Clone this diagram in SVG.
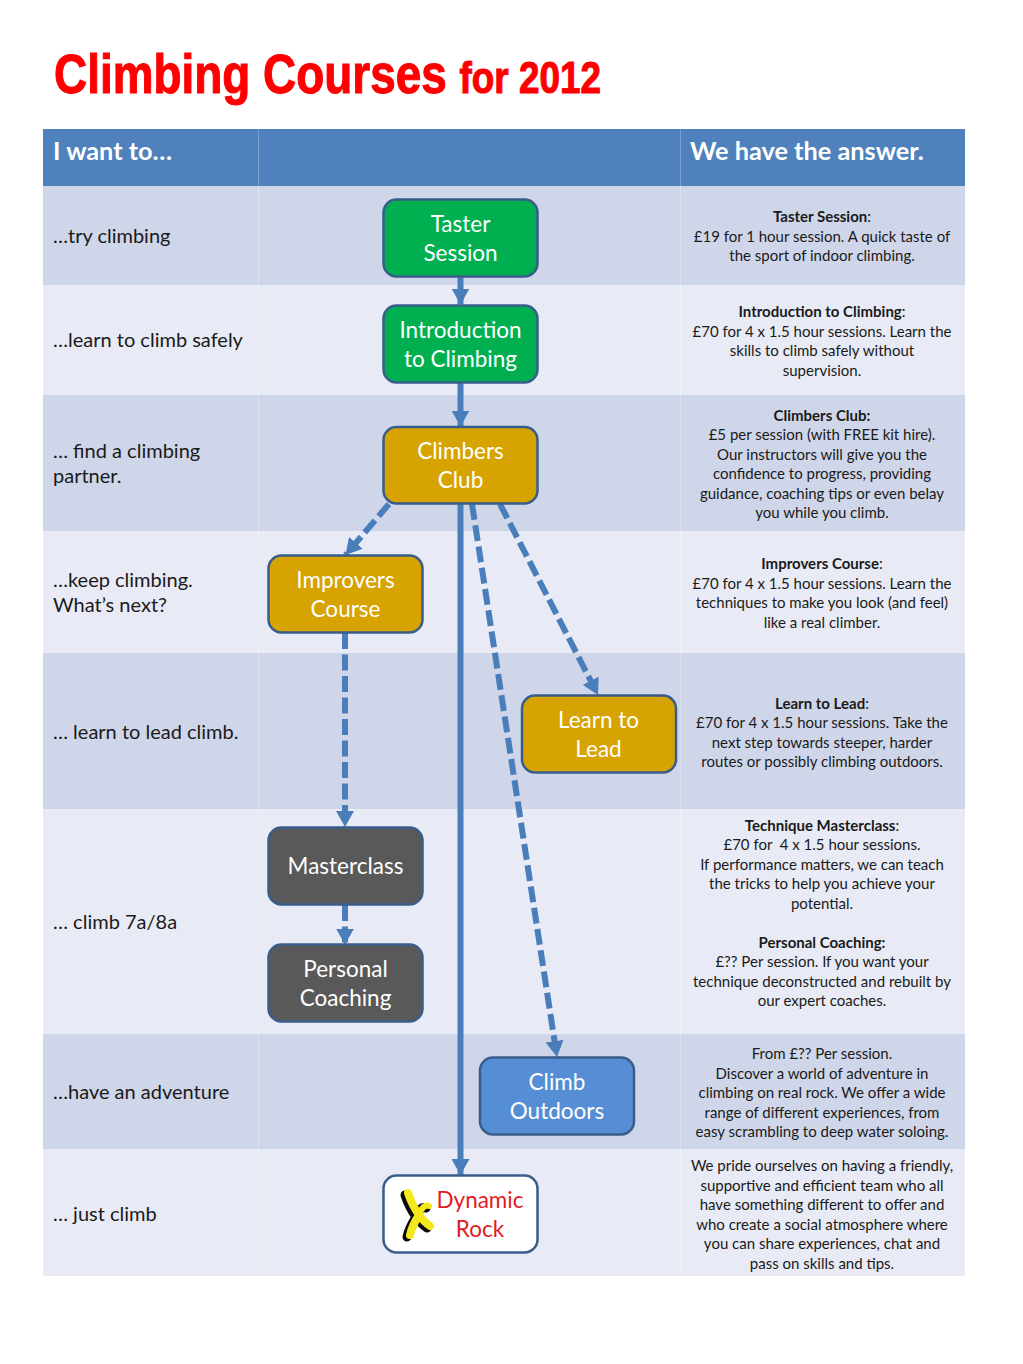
<svg xmlns="http://www.w3.org/2000/svg" width="1023" height="1364" viewBox="0 0 1023 1364">
<style>
text{font-family:Lato,"Open Sans",sans-serif}
.title{font-family:"Liberation Sans",Arial,sans-serif;font-weight:700;fill:#f00;stroke:#f00;stroke-width:1.100}
.hd{font-size:25.300px;font-weight:700;fill:#fff}
.lb{font-size:20px;fill:#1a1a1a}
.in{font-size:15px;fill:#1a1a1a;text-anchor:middle}
.b{font-weight:700}
.n{font-size:22.500px;fill:#fff;text-anchor:middle}
.nb{stroke:#385d8a;stroke-width:2.500}
.c{fill:none;stroke:#4a7ebb;stroke-width:6}
.d{stroke-dasharray:16 5.500}
.ly{fill:none;stroke:#f4e81d;stroke-width:8;stroke-linecap:round}
.lk{fill:none;stroke:#0a0a0a;stroke-width:9;stroke-linecap:round}
</style>
<defs>
<marker id="ah" markerUnits="userSpaceOnUse" markerWidth="17" markerHeight="18" refX="16" refY="9" orient="auto"><path d="M0 0L16 9L0 18Z" fill="#4a7ebb"/></marker>
</defs>
<rect width="1023" height="1364" fill="#fff"/>
<g id="title">
<text class="title" transform="translate(54 92.500) scale(.82 1)"><tspan font-size="56">Climbing Courses </tspan><tspan font-size="45">for 2012</tspan></text>
</g>
<g id="table">
<rect x="43" y="129" width="922" height="57" fill="#4f81bd"/>
<rect x="43" y="186" width="922" height="99" fill="#cfd6e9"/>
<rect x="43" y="285" width="922" height="110" fill="#e8ebf5"/>
<rect x="43" y="395" width="922" height="136" fill="#cfd6e9"/>
<rect x="43" y="531" width="922" height="122" fill="#e8ebf5"/>
<rect x="43" y="653" width="922" height="156" fill="#cfd6e9"/>
<rect x="43" y="809" width="922" height="225" fill="#e8ebf5"/>
<rect x="43" y="1034" width="922" height="115" fill="#cfd6e9"/>
<rect x="43" y="1149" width="922" height="127" fill="#e8ebf5"/>
<path d="M258.500 129V1276M680.500 129V1276" stroke="#fff" stroke-opacity=".25" fill="none"/>
<text class="hd" x="53" y="160">I want to…</text>
<text class="hd" x="690" y="160">We have the answer.</text>
<text class="lb" x="53" y="243">…try climbing</text>
<text class="lb" x="53" y="347">…learn to climb safely</text>
<text class="lb" x="53" y="458">… find a climbing</text>
<text class="lb" x="53" y="483">partner.</text>
<text class="lb" x="53" y="587">…keep climbing.</text>
<text class="lb" x="53" y="612">What’s next?</text>
<text class="lb" x="53" y="739">… learn to lead climb.</text>
<text class="lb" x="53" y="929">… climb 7a/8a</text>
<text class="lb" x="53" y="1099">…have an adventure</text>
<text class="lb" x="53" y="1221">… just climb</text>
<g transform="translate(0 .6)">
<text class="in" x="822" y="221"><tspan class="b">Taster Session</tspan>:</text>
<text class="in" x="822" y="241">£19 for 1 hour session. A quick taste of</text>
<text class="in" x="822" y="260">the sport of indoor climbing.</text>
<text class="in" x="822" y="316"><tspan class="b">Introduction to Climbing</tspan>:</text>
<text class="in" x="822" y="336">£70 for 4 x 1.5 hour sessions. Learn the</text>
<text class="in" x="822" y="355">skills to climb safely without</text>
<text class="in" x="822" y="375">supervision.</text>
<text class="in b" x="822" y="420">Climbers Club:</text>
<text class="in" x="822" y="439">£5 per session (with FREE kit hire).</text>
<text class="in" x="822" y="459">Our instructors will give you the</text>
<text class="in" x="822" y="478">confidence to progress, providing</text>
<text class="in" x="822" y="498">guidance, coaching tips or even belay</text>
<text class="in" x="822" y="517">you while you climb.</text>
<text class="in" x="822" y="568"><tspan class="b">Improvers Course</tspan>:</text>
<text class="in" x="822" y="588">£70 for 4 x 1.5 hour sessions. Learn the</text>
<text class="in" x="822" y="607">techniques to make you look (and feel)</text>
<text class="in" x="822" y="627">like a real climber.</text>
<text class="in" x="822" y="708"><tspan class="b">Learn to Lead</tspan>:</text>
<text class="in" x="822" y="727">£70 for 4 x 1.5 hour sessions. Take the</text>
<text class="in" x="822" y="747">next step towards steeper, harder</text>
<text class="in" x="822" y="766">routes or possibly climbing outdoors.</text>
<text class="in" x="822" y="830"><tspan class="b">Technique Masterclass</tspan>:</text>
<text class="in" x="822" y="849" xml:space="preserve">£70 for  4 x 1.5 hour sessions.</text>
<text class="in" x="822" y="869">If performance matters, we can teach</text>
<text class="in" x="822" y="888">the tricks to help you achieve your</text>
<text class="in" x="822" y="908">potential.</text>
<text class="in b" x="822" y="947">Personal Coaching:</text>
<text class="in" x="822" y="966">£?? Per session. If you want your</text>
<text class="in" x="822" y="986">technique deconstructed and rebuilt by</text>
<text class="in" x="822" y="1005">our expert coaches.</text>
<text class="in" x="822" y="1058">From £?? Per session.</text>
<text class="in" x="822" y="1078">Discover a world of adventure in</text>
<text class="in" x="822" y="1097">climbing on real rock. We offer a wide</text>
<text class="in" x="822" y="1117">range of different experiences, from</text>
<text class="in" x="822" y="1136">easy scrambling to deep water soloing.</text>
<text class="in" x="822" y="1170">We pride ourselves on having a friendly,</text>
<text class="in" x="822" y="1190">supportive and efficient team who all</text>
<text class="in" x="822" y="1209">have something different to offer and</text>
<text class="in" x="822" y="1229">who create a social atmosphere where</text>
<text class="in" x="822" y="1248">you can share experiences, chat and</text>
<text class="in" x="822" y="1268">pass on skills and tips.</text>
</g>
</g>
<g id="connectors">
<path class="c" d="M460.500 277V304.500" marker-end="url(#ah)"/>
<path class="c" d="M460.500 383V426.500" marker-end="url(#ah)"/>
<path class="c" d="M460.500 504V1175" marker-end="url(#ah)"/>
<path class="c d" d="M389 504L345.500 555" marker-end="url(#ah)"/>
<path class="c d" d="M472 504L557 1057" marker-end="url(#ah)"/>
<path class="c d" d="M500 504L598 695" marker-end="url(#ah)"/>
<path class="c d" d="M345 633V827" marker-end="url(#ah)"/>
<path class="c d" d="M345 905V944.500" marker-end="url(#ah)"/>
</g>
<g id="taster"><rect class="nb" x="383.500" y="199.500" width="154" height="77" rx="13" fill="#00b050"/><text class="n" x="460.500" y="232">Taster</text><text class="n" x="460.500" y="261">Session</text></g>
<g id="intro"><rect class="nb" x="383.500" y="305.500" width="154" height="77" rx="13" fill="#00b050"/><text class="n" x="460.500" y="338">Introduction</text><text class="n" x="460.500" y="367">to Climbing</text></g>
<g id="club"><rect class="nb" x="383.500" y="427" width="154" height="76.500" rx="13" fill="#d6a300"/><text class="n" x="460.500" y="459">Climbers</text><text class="n" x="460.500" y="488">Club</text></g>
<g id="improvers"><rect class="nb" x="268.500" y="555.500" width="154" height="77" rx="13" fill="#d6a300"/><text class="n" x="345.500" y="588">Improvers</text><text class="n" x="345.500" y="617">Course</text></g>
<g id="lead"><rect class="nb" x="522" y="695.500" width="154" height="77" rx="13" fill="#d6a300"/><text class="n" x="598.500" y="728">Learn to</text><text class="n" x="598.500" y="757">Lead</text></g>
<g id="master"><rect class="nb" x="268.500" y="827.500" width="154" height="77" rx="13" fill="#595959"/><text class="n" x="345.500" y="874">Masterclass</text></g>
<g id="coaching"><rect class="nb" x="268.500" y="944.500" width="154" height="77" rx="13" fill="#595959"/><text class="n" x="345.500" y="977">Personal</text><text class="n" x="345.500" y="1006">Coaching</text></g>
<g id="outdoors"><rect class="nb" x="480" y="1057.500" width="154" height="77" rx="13" fill="#558ed5"/><text class="n" x="557" y="1090">Climb</text><text class="n" x="557" y="1119">Outdoors</text></g>
<g id="dynamic"><rect class="nb" x="383.500" y="1175.500" width="154" height="77" rx="13" fill="#fff"/>
<g transform="translate(-3 2)"><path class="lk" d="M408 1193Q412 1205 419 1215Q412 1226 410 1235"/><path class="lk" d="M419 1215Q424 1222 430 1226"/><path class="lk" d="M420 1212Q424 1204 429 1206"/></g>
<path class="ly" d="M408 1193Q412 1205 419 1215Q412 1226 410 1235"/><path class="ly" d="M419 1215Q424 1222 430 1226"/><path class="ly" style="stroke-width:6" d="M420 1212Q424 1204 429 1206"/>
<text class="n" style="fill:#e31b23" x="480" y="1208">Dynamic</text><text class="n" style="fill:#e31b23" x="480" y="1237">Rock</text></g>
</svg>
